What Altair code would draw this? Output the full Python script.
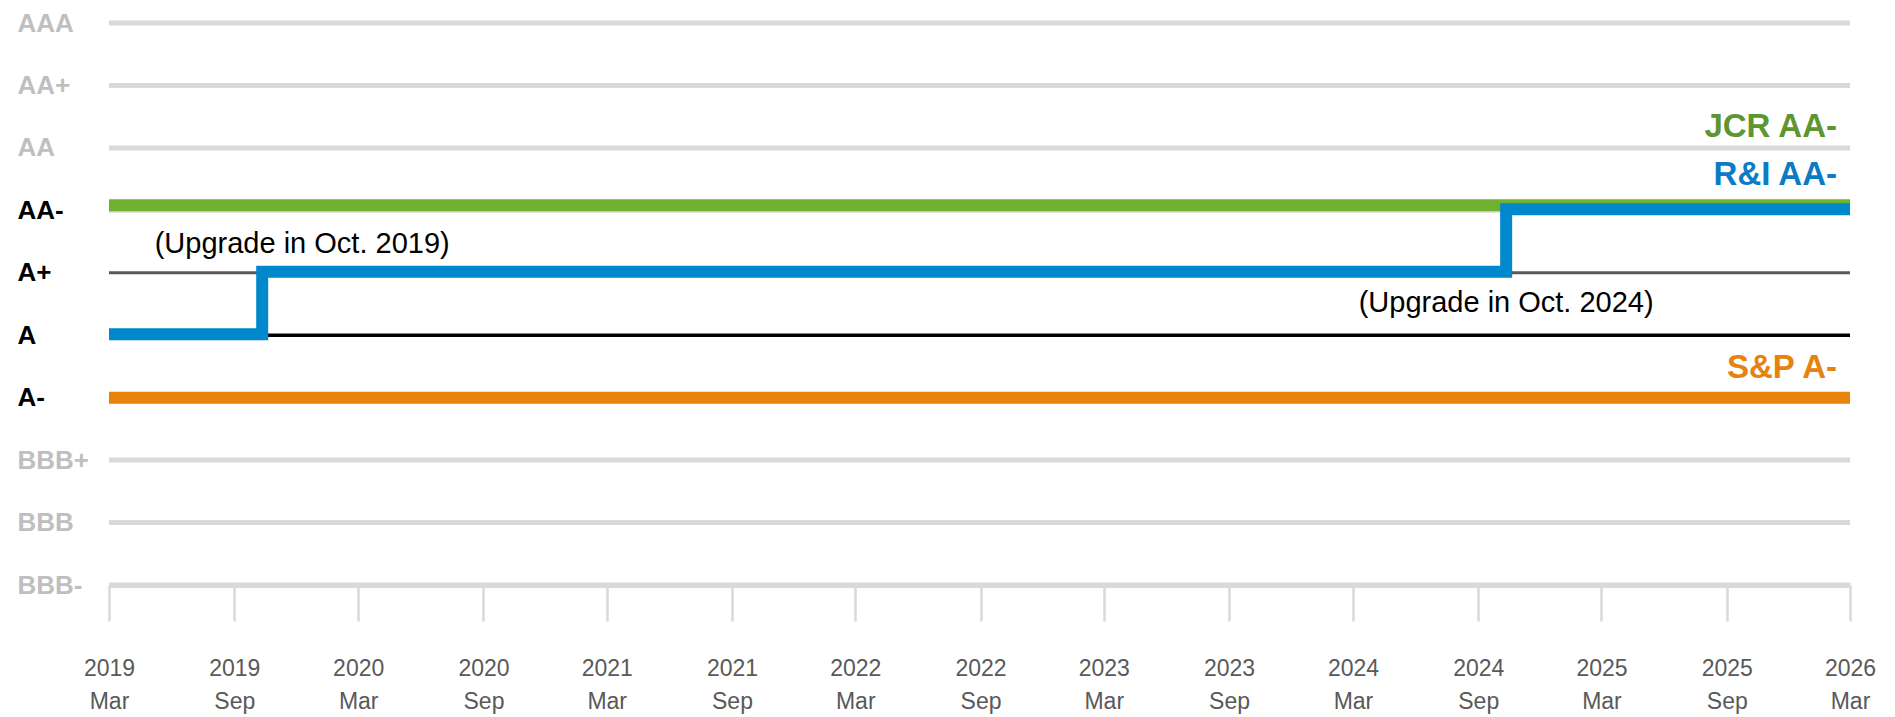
import altair as alt
import pandas as pd

# ---------------- data ----------------
ratings = ["AAA", "AA+", "AA", "AA-", "A+", "A", "A-", "BBB+", "BBB", "BBB-"]
highlight_ratings = ["AA-", "A+", "A", "A-"]
light_grid_ratings = ["AAA", "AA+", "AA", "AA-", "A-", "BBB+", "BBB", "BBB-"]
dark_grid_rating = ["A+"]
black_grid_rating = ["A"]

jcr_dates = ["2019-03-01T00:00:00", "2026-03-01T00:00:00"]
jcr_ratings = ["AA-", "AA-"]

ri_dates = ["2019-03-01T00:00:00", "2019-10-12T00:00:00", "2024-10-12T00:00:00", "2026-03-01T00:00:00"]
ri_ratings = ["A", "A+", "AA-", "AA-"]

sp_dates = ["2019-03-01T00:00:00", "2026-03-01T00:00:00"]
sp_ratings = ["A-", "A-"]

tick_years = [2019, 2019, 2020, 2020, 2021, 2021, 2022, 2022, 2023, 2023, 2024, 2024, 2025, 2025, 2026]
tick_months = [3, 9, 3, 9, 3, 9, 3, 9, 3, 9, 3, 9, 3, 9, 3]

annot_texts = ["(Upgrade in Oct. 2019)", "(Upgrade in Oct. 2024)"]
annot_dates = ["2019-10-12T00:00:00", "2024-10-12T00:00:00"]
annot_ratings = ["A+", "A+"]

label_texts = ["JCR AA-", "R&I AA-", "S&P A-"]
label_dates = ["2026-03-01T00:00:00", "2026-03-01T00:00:00", "2026-03-01T00:00:00"]
label_ratings = ["AA-", "AA-", "A-"]

# ---------------- encodings ----------------
FONT = "Liberation Sans"
GREEN, BLUE, ORANGE = "#70b22f", "#0088cc", "#e8820c"

hl_list = ",".join("'" + r + "'" for r in highlight_ratings)
y_enc = alt.Y(
    "rating:N",
    scale=alt.Scale(type="point", domain=ratings, padding=0),
    axis=alt.Axis(
        title=None, domain=False, ticks=False, tickSize=0, grid=False,
        labelAlign="left", labelBaseline="middle", labelPadding=92,
        labelFontSize=26, labelFontWeight="bold", labelFont=FONT,
        labelColor={"condition": {"test": f"indexof([{hl_list}], datum.value) >= 0", "value": "#000000"},
                    "value": "#bfbfbf"},
    ),
)

tick_values = [alt.DateTime(year=y, month=m, date=1) for y, m in zip(tick_years, tick_months)]
x_enc = alt.X(
    "date:T",
    scale=alt.Scale(domain=[tick_values[0], tick_values[-1]]),
    axis=alt.Axis(
        title=None, values=tick_values, grid=False,
        domainColor="#d9d9d9", domainWidth=5,
        tickColor="#d9d9d9", tickWidth=2.5, tickSize=36,
        labelPadding=36, labelFontSize=23, labelFont=FONT, labelColor="#595959",
        labelLineHeight=33, labelOverlap=False, labelFlush=False,
        labelExpr="[timeFormat(datum.value, '%Y'), timeFormat(datum.value, '%b')]",
    ),
)
x_plain = alt.X("date:T")

def df(dates, rts):
    return pd.DataFrame({"date": dates, "rating": rts})

light_grid = alt.Chart(pd.DataFrame({"rating": light_grid_ratings})).mark_rule(
    color="#d9d9d9", strokeWidth=5).encode(y=y_enc)
dark_grid = alt.Chart(pd.DataFrame({"rating": dark_grid_rating})).mark_rule(
    color="#595959", strokeWidth=3).encode(y=y_enc)
black_grid = alt.Chart(pd.DataFrame({"rating": black_grid_rating})).mark_rule(
    color="#000000", strokeWidth=3.5).encode(y=y_enc)

green_line = alt.Chart(df(jcr_dates, jcr_ratings)).mark_line(
    color=GREEN, strokeWidth=12, yOffset=-5).encode(x=x_enc, y=y_enc)
orange_line = alt.Chart(df(sp_dates, sp_ratings)).mark_line(
    color=ORANGE, strokeWidth=12).encode(x=x_plain, y=y_enc)
blue_line = alt.Chart(df(ri_dates, ri_ratings)).mark_line(
    color=BLUE, strokeWidth=12, interpolate="step-after", yOffset=-1, strokeJoin="miter").encode(x=x_plain, y=y_enc)

annot_df = pd.DataFrame({"date": annot_dates, "rating": annot_ratings, "text": annot_texts})
annot1 = alt.Chart(annot_df.iloc[[0]]).mark_text(
    font=FONT, fontSize=29, color="#000000", align="center", baseline="alphabetic", dx=40, dy=-20
).encode(x=x_plain, y=y_enc, text="text:N")
annot2 = alt.Chart(annot_df.iloc[[1]]).mark_text(
    font=FONT, fontSize=29, color="#000000", align="center", baseline="alphabetic", dx=0, dy=39
).encode(x=x_plain, y=y_enc, text="text:N")

lab_df = pd.DataFrame({"date": label_dates, "rating": label_ratings, "text": label_texts})
def rlabel(i, color, dy):
    return alt.Chart(lab_df.iloc[[i]]).mark_text(
        font=FONT, fontSize=33, fontWeight="bold", color=color,
        align="right", baseline="alphabetic", dx=-13, dy=dy
    ).encode(x=x_plain, y=y_enc, text="text:N")

jcr_label = rlabel(0, "#5d9630", -73)
ri_label = rlabel(1, "#0b7bc6", -25)
sp_label = rlabel(2, "#e6820e", -20)

chart = alt.layer(
    light_grid, dark_grid, black_grid, green_line, orange_line, blue_line,
    annot1, annot2, jcr_label, ri_label, sp_label,
).properties(
    width=1741, height=562,
    padding={"left": 101, "top": 15, "right": 30, "bottom": 130},
    autosize=alt.AutoSizeParams(type="none"),
).configure(font=FONT, view=alt.ViewConfig(stroke=None))

chart.save("out.html", embed_options={"renderer": "svg", "actions": False})
